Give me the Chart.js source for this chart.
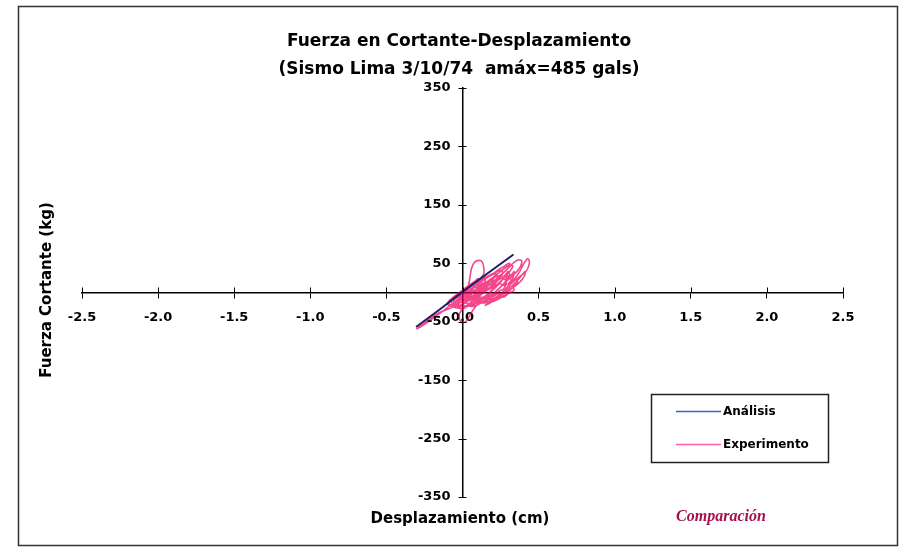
<!DOCTYPE html>
<html>
<head>
<meta charset="utf-8">
<script src="https://cdn.jsdelivr.net/npm/chart.js@4.4.1/dist/chart.umd.min.js"></script>
<style>
  html, body { margin: 0; padding: 0; background: #fff; }
  #wrap { width: 901px; height: 550px; position: relative; }
</style>
</head>
<body>
<div id="wrap"><canvas id="c" width="901" height="550"></canvas></div>
<script>
// Axis ticks
const dispTicks = [-2.5, -2.0, -1.5, -1.0, -0.5, 0.0, 0.5, 1.0, 1.5, 2.0, 2.5];
const forceTicks = [-350, -250, -150, -50, 50, 150, 250, 350];

// Análisis: shear force vs displacement (cm, kg)
const anaDisp  = [-0.305, -0.15, 0.00, 0.15, 0.335];
const anaForce = [-59, -29, 1, 30, 65];

// Experimento: measured hysteresis trace (cm, kg)
const expDisp = [
  0.00, 0.02, 0.04, 0.06, 0.07, 0.05, 0.02, -0.02, -0.05, -0.06, -0.03, 0.01, 0.05, 0.09, 0.11, 0.10,
  0.07, 0.03, -0.02, -0.07, -0.09, -0.06, -0.01, 0.05, 0.10, 0.14, 0.15, 0.12, 0.08, 0.04, -0.01, -0.05,
  -0.03, 0.01, 0.04, 0.05, 0.06, 0.08, 0.11, 0.13, 0.14, 0.14, 0.12, 0.09, 0.05, 0.01, -0.04, -0.09,
  -0.15, -0.21, -0.26, -0.30, -0.27, -0.22, -0.16, -0.10, -0.05, 0.00, 0.06, 0.12, 0.18, 0.22, 0.23, 0.20,
  0.15, 0.10, 0.05, 0.01,
  -0.02, -0.02, 0.00, 0.03, 0.05, 0.08, 0.12, 0.17, 0.22, 0.27, 0.30, 0.31, 0.28, 0.23, 0.18, 0.12,
  0.07, 0.04, 0.07, 0.12, 0.17,
  0.22, 0.27, 0.31, 0.34, 0.37, 0.39, 0.38, 0.35, 0.31, 0.26, 0.21, 0.16, 0.14, 0.17, 0.22, 0.27,
  0.31, 0.35, 0.38, 0.40, 0.42, 0.43, 0.44, 0.43, 0.41, 0.38, 0.34, 0.30, 0.26, 0.21, 0.17, 0.15,
  0.18, 0.23, 0.28, 0.32, 0.36, 0.39, 0.41, 0.41, 0.39, 0.36, 0.32, 0.28, 0.23, 0.19,
  0.15, 0.11, 0.08, 0.11, 0.15, 0.20, 0.25, 0.29, 0.32, 0.33, 0.31, 0.27, 0.23, 0.19, 0.15, 0.10,
  0.05, 0.00, -0.04, -0.05, -0.02, 0.03, 0.08, 0.13, 0.18, 0.23, 0.26, 0.26, 0.23, 0.19, 0.14, 0.09,
  0.04, 0.00, 0.02, 0.06, 0.11, 0.16, 0.21, 0.24, 0.23, 0.19, 0.14, 0.09, 0.05, 0.08, 0.13, 0.18,
  0.22, 0.20, 0.15, 0.10, 0.07, 0.10, 0.14, 0.12,
  0.16, 0.14, 0.18, 0.21, 0.19, 0.23, 0.26, 0.24, 0.28, 0.30, 0.29, 0.32, 0.34, 0.33, 0.30, 0.31,
  0.27, 0.25, 0.22, 0.19, 0.15, 0.13, 0.09, 0.06, 0.02, -0.02, -0.06, -0.08, -0.05, -0.02, 0.01, 0.04,
  0.07, 0.10, 0.13, 0.16, 0.19, 0.22, 0.25, 0.28, 0.30, 0.33, 0.35, 0.36, 0.33, 0.34, 0.30, 0.27,
  0.24, 0.21, 0.17, 0.14, 0.10, 0.07, 0.03, 0.00, -0.04, -0.07, -0.10, -0.08, -0.04, -0.01, 0.03, 0.06,
  0.09, 0.12, 0.15, 0.18, 0.21, 0.24, 0.27, 0.29, 0.27, 0.24, 0.21, 0.18, 0.15, 0.12, 0.09, 0.05,
  0.02, -0.02, 0.00, 0.03, 0.06, 0.09, 0.12, 0.15, 0.18, 0.21, 0.24, 0.27, 0.29, 0.31, 0.30, 0.27,
  0.24, 0.21, 0.18, 0.15, 0.12, 0.08, 0.04, 0.01, -0.03, -0.06, -0.04, 0.00, 0.04, 0.07, 0.10, 0.08,
  0.05, 0.02
];
const expForce = [
  0, 6, 12, 14, 10, 2, -6, -12, -16, -12, -4, 4, 12, 18, 18, 10,
  0, -10, -18, -22, -18, -8, 2, 14, 22, 26, 20, 8, -4, -14, -22, -26,
  -18, -4, 12, 28, 42, 52, 55, 52, 42, 32, 24, 14, 0, -12, -22, -28,
  -34, -44, -54, -62, -58, -49, -38, -26, -16, -6, 6, 18, 28, 32, 26, 14,
  2, -8, -18, -26,
  -36, -46, -52, -48, -38, -26, -14, -2, 12, 24, 34, 30, 18, 4, -8, -18,
  -24, -22, -12, 0, 12,
  22, 34, 44, 52, 56, 54, 44, 34, 24, 12, 0, -12, -18, -16, -8, 2,
  14, 26, 38, 48, 56, 58, 52, 42, 34, 28, 20, 10, 0, -10, -18, -22,
  -18, -10, 0, 10, 20, 30, 36, 30, 22, 14, 6, -4, -12, -16,
  -14, -10, -4, 6, 16, 26, 36, 44, 48, 44, 36, 24, 12, 2, -6, -14,
  -20, -24, -26, -20, -10, 2, 12, 22, 30, 36, 38, 30, 20, 10, 0, -8,
  -14, -18, -10, 0, 10, 18, 26, 28, 20, 10, 2, -6, -10, -4, 6, 14,
  18, 10, 2, -4, -6, 2, 8, 4,
  14, 10, 20, 26, 18, 24, 32, 22, 30, 36, 26, 30, 36, 24, 14, 8,
  2, -4, -2, -10, -12, -16, -14, -20, -18, -22, -20, -14, -6, -8, 2, 0,
  10, 8, 16, 12, 22, 18, 26, 22, 28, 20, 24, 16, 10, 4, -2, -8,
  -6, -14, -12, -18, -16, -22, -24, -28, -26, -24, -20, -12, -10, -2, -4, 4,
  2, 10, 6, 14, 10, 16, 12, 16, 6, 2, -6, -4, -10, -8, -12, -10,
  -14, -12, -4, 6, 12, 18, 22, 26, 30, 34, 40, 44, 48, 50, 42, 34,
  28, 20, 14, 8, 2, -4, -8, -6, -14, -16, -8, 0, 8, 16, 24, 18,
  10, 4
];

const toPoints = (xs, ys) => xs.map((x, i) => ({ x: x, y: ys[i] }));

const SANS = "'DejaVu Sans', Verdana, sans-serif";

// Page frame, titles, crossing tick marks, force labels and boxed legend
const decorations = {
  id: 'decorations',
  beforeDraw(chart) {
    const ctx = chart.ctx;
    ctx.save();
    ctx.fillStyle = '#fff';
    ctx.fillRect(0, 0, chart.width, chart.height);
    ctx.strokeStyle = '#333';
    ctx.lineWidth = 1.5;
    ctx.strokeRect(18.5, 6.5, 879, 539);
    ctx.restore();
  },
  afterDraw(chart) {
    const ctx = chart.ctx;
    const xs = chart.scales.x, ys = chart.scales.y;
    const x0 = xs.getPixelForValue(0), y0 = ys.getPixelForValue(0);
    ctx.save();

    // upper half of displacement ticks, both halves of force ticks
    ctx.strokeStyle = '#000';
    ctx.lineWidth = 1;
    ctx.beginPath();
    xs.ticks.forEach(t => {
      const px = Math.round(xs.getPixelForValue(t.value)) + 0.5;
      ctx.moveTo(px, y0 - 5); ctx.lineTo(px, y0);
    });
    ys.ticks.forEach(t => {
      const py = Math.round(ys.getPixelForValue(t.value)) + 0.5;
      ctx.moveTo(x0 - 4, py); ctx.lineTo(x0 + 4, py);
    });
    ctx.stroke();

    // force tick labels, left of the vertical axis
    ctx.fillStyle = '#000';
    ctx.font = 'bold 13px ' + SANS;
    ctx.textAlign = 'right';
    ctx.textBaseline = 'middle';
    ys.ticks.forEach(t => {
      ctx.fillText(String(t.value), x0 - 12, ys.getPixelForValue(t.value));
    });

    // titles
    ctx.textAlign = 'center';
    ctx.font = 'bold 17px ' + SANS;
    ctx.fillText('Fuerza en Cortante-Desplazamiento', 459, 42);
    ctx.fillText('(Sismo Lima 3/10/74  amáx=485 gals)', 459, 70);

    ctx.font = 'bold 15px ' + SANS;
    ctx.fillText('Desplazamiento (cm)', 460, 519);

    ctx.save();
    ctx.translate(47, 290);
    ctx.rotate(-Math.PI / 2);
    ctx.fillText('Fuerza Cortante (kg)', 0, 0);
    ctx.restore();

    ctx.fillStyle = '#a3104a';
    ctx.font = "italic bold 16px 'Liberation Serif', 'Times New Roman', serif";
    ctx.fillText('Comparación', 721, 517);

    // legend box
    const lx = 651, ly = 394, lw = 177, lh = 68;
    ctx.strokeStyle = '#222';
    ctx.lineWidth = 1.5;
    ctx.strokeRect(lx + 0.5, ly + 0.5, lw, lh);
    ctx.textAlign = 'left';
    ctx.font = 'bold 12px ' + SANS;
    chart.data.datasets.forEach((ds, i) => {
      const yy = ly + 17 + i * 33;
      ctx.strokeStyle = ds.legendColor || ds.borderColor;
      ctx.lineWidth = 1.5;
      ctx.beginPath();
      ctx.moveTo(lx + 25, yy + 0.5); ctx.lineTo(lx + 70, yy + 0.5);
      ctx.stroke();
      ctx.fillStyle = '#000';
      ctx.fillText(ds.label, lx + 72, yy + 1);
    });
    ctx.restore();
  }
};

new Chart(document.getElementById('c'), {
  type: 'scatter',
  data: {
    datasets: [
      {
        label: 'Análisis',
        data: toPoints(anaDisp, anaForce),
        showLine: true,
        borderColor: '#1d1d6b',
        legendColor: '#4a5ccc',
        borderWidth: 2,
        pointRadius: 0,
        tension: 0
      },
      {
        label: 'Experimento',
        data: toPoints(expDisp, expForce),
        showLine: true,
        borderColor: 'rgba(240, 0, 92, 0.72)',
        legendColor: '#ff5fb0',
        borderWidth: 1.6,
        pointRadius: 0,
        tension: 0.25
      }
    ]
  },
  options: {
    responsive: false,
    animation: false,
    devicePixelRatio: 1,
    layout: { padding: { left: 82, right: 58, top: 88, bottom: 53 } },
    plugins: {
      legend: { display: false },
      title: { display: false },
      tooltip: { enabled: false }
    },
    scales: {
      x: {
        type: 'linear',
        position: { y: 0 },
        min: -2.5, max: 2.5,
        afterBuildTicks: s => { s.ticks = dispTicks.map(v => ({ value: v })); },
        grid: { display: true, drawOnChartArea: false, drawTicks: true, tickLength: 5, color: '#000', lineWidth: 1 },
        border: { display: true, color: '#000', width: 1.5 },
        ticks: {
          color: '#000',
          padding: 12,
          maxRotation: 0,
          autoSkip: false,
          font: { family: SANS, size: 13, weight: 'bold' },
          callback: v => Number(v).toFixed(1)
        }
      },
      y: {
        type: 'linear',
        position: { x: 0 },
        min: -350, max: 350,
        afterBuildTicks: s => { s.ticks = forceTicks.map(v => ({ value: v })); },
        grid: { display: false, drawOnChartArea: false, drawTicks: false },
        border: { display: true, color: '#000', width: 1.5 },
        ticks: { display: false }
      }
    }
  },
  plugins: [decorations]
});
</script>
</body>
</html>
